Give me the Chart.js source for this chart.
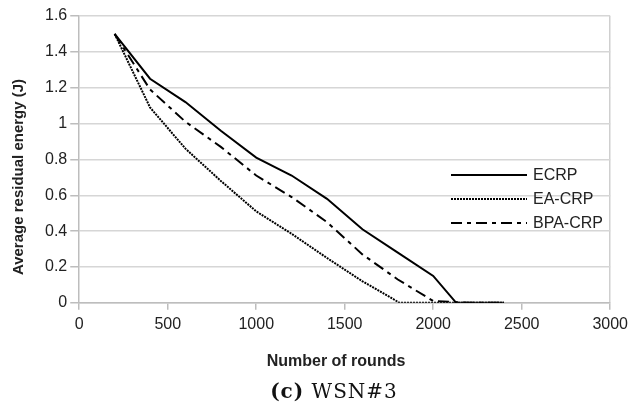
<!DOCTYPE html>
<html>
<head>
<meta charset="utf-8">
<script src="https://cdn.jsdelivr.net/npm/chart.js@4"></script>
<style>
  html, body { margin: 0; padding: 0; background: #fff; }
  #wrap { width: 633px; height: 410px; position: relative; }
  #caption { position: absolute; left: 234px; top: 378px; width: 200px; text-align: center; font-family: 'DejaVu Serif', 'Liberation Serif', serif; font-size: 20px; letter-spacing: 1px; color: #111; line-height: 26px; white-space: nowrap; }
</style>
</head>
<body>
<div id="wrap"><canvas id="c"></canvas><div id="caption"><b>(c)</b> WSN#3</div></div>
<script>
  'use strict';

  // rounds (x) and residual energy (y) per protocol
  const ecrpRounds = [200, 400, 600, 800, 1000, 1200, 1400, 1600, 1800, 2000, 2130, 2200, 2400];
  const ecrpEnergy = [1.5, 1.25, 1.12, 0.96, 0.81, 0.71, 0.58, 0.41, 0.28, 0.15, 0, 0, 0];

  const eaRounds = [200, 400, 600, 800, 1000, 1200, 1400, 1600, 1810, 2000, 2200, 2400];
  const eaEnergy = [1.5, 1.09, 0.86, 0.68, 0.51, 0.385, 0.25, 0.12, 0, 0, 0, 0];

  const bpaRounds = [200, 400, 600, 800, 1000, 1200, 1400, 1600, 1800, 2000, 2200, 2400];
  const bpaEnergy = [1.5, 1.19, 1.01, 0.87, 0.71, 0.59, 0.45, 0.27, 0.13, 0.01, 0, 0];

  const seriesNames = ['ECRP', 'EA-CRP', 'BPA-CRP'];
  const xTicks = [0, 500, 1000, 1500, 2000, 2500, 3000];
  const yTicks = [0, 0.2, 0.4, 0.6, 0.8, 1, 1.2, 1.4, 1.6];
  const xTitle = 'Number of rounds';
  const yTitle = 'Average residual energy (J)';

  const toPoints = (xs, ys) => xs.map((x, i) => ({ x: x, y: ys[i] }));

  const series = [
    { data: toPoints(ecrpRounds, ecrpEnergy), dash: [], width: 2 },
    { data: toPoints(eaRounds, eaEnergy), dash: [2, 1], width: 2 },
    { data: toPoints(bpaRounds, bpaEnergy), dash: [11, 5, 4, 5], width: 2 }
  ];

  const font = "'Liberation Sans', Arial, sans-serif";
  const textColor = '#222';

  // legend sits inside the plot area; axis titles drawn by hand for placement
  const overlay = {
    id: 'overlay',
    afterDatasetsDraw(chart) {
      const ctx = chart.ctx;
      const x0 = 451, x1 = 527, tx = 533;
      const rows = [175, 199, 223];
      ctx.save();
      chart.data.datasets.forEach((ds, i) => {
        const y = rows[i];
        ctx.beginPath();
        ctx.setLineDash(ds.borderDash || []);
        ctx.lineWidth = ds.borderWidth;
        ctx.strokeStyle = ds.borderColor;
        ctx.moveTo(x0, y);
        ctx.lineTo(x1, y);
        ctx.stroke();
        ctx.setLineDash([]);
        ctx.fillStyle = textColor;
        ctx.font = '16px ' + font;
        ctx.textBaseline = 'middle';
        ctx.textAlign = 'left';
        ctx.fillText(ds.label, tx, y + 1);
      });

      ctx.fillStyle = textColor;
      ctx.font = 'bold 16px ' + font;
      ctx.textAlign = 'center';
      ctx.textBaseline = 'alphabetic';
      ctx.fillText(xTitle, 336, 366);

      ctx.translate(19, 177);
      ctx.rotate(-Math.PI / 2);
      ctx.font = 'bold 15px ' + font;
      ctx.textBaseline = 'middle';
      ctx.fillText(yTitle, 0, 0);
      ctx.restore();
    }
  };

  new Chart(document.getElementById('c'), {
    type: 'scatter',
    data: {
      datasets: series.map((s, i) => ({
        label: seriesNames[i],
        data: s.data,
        showLine: true,
        borderColor: '#000',
        backgroundColor: '#000',
        borderWidth: s.width,
        borderDash: s.dash,
        pointRadius: 0,
        tension: 0
      }))
    },
    options: {
      responsive: true,
      maintainAspectRatio: false,
      animation: false,
      layout: { padding: { left: 42, right: 20, top: 16, bottom: 71 } },
      plugins: {
        legend: { display: false },
        tooltip: { enabled: false }
      },
      scales: {
        x: {
          type: 'linear',
          min: 0,
          max: 3000,
          afterBuildTicks: (axis) => { axis.ticks = xTicks.map((v) => ({ value: v })); },
          grid: {
            color: (c) => (c.tick && c.tick.value === 3000 ? '#cfcfcf' : 'rgba(0,0,0,0)'),
            tickColor: '#bdbdbd',
            tickLength: 7,
            lineWidth: 1.5
          },
          border: { color: '#bdbdbd', width: 1.5 },
          ticks: { color: textColor, font: { family: font, size: 16 }, padding: 5, maxRotation: 0, callback: (v) => String(v) }
        },
        y: {
          min: 0,
          max: 1.6,
          afterBuildTicks: (axis) => { axis.ticks = yTicks.map((v) => ({ value: v })); },
          grid: { color: '#d6d6d6', tickColor: '#bdbdbd', tickLength: 9, lineWidth: 1.5 },
          border: { color: '#bdbdbd', width: 1.5 },
          ticks: { color: textColor, font: { family: font, size: 16 }, padding: 3, callback: (v) => String(Math.round(v * 10) / 10) }
        }
      }
    },
    plugins: [overlay]
  });
</script>
</body>
</html>
